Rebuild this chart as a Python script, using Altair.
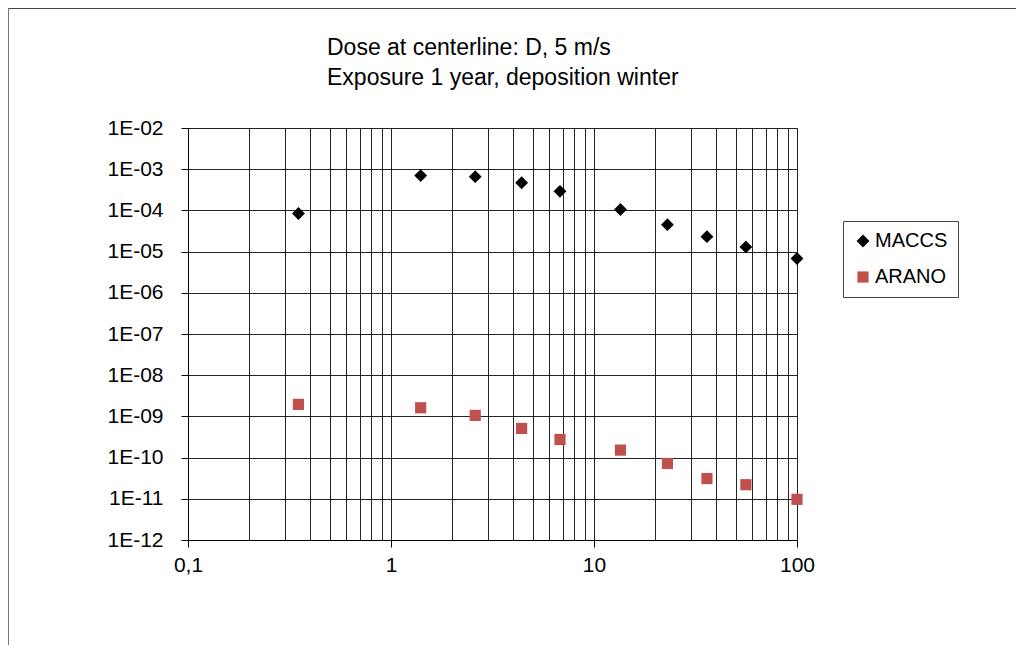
import altair as alt
import pandas as pd

# ---- data ----
distance = [0.35, 1.4, 2.6, 4.4, 6.8, 13.5, 23, 36, 56, 100]
maccs = [8.4e-5, 7.0e-4, 6.6e-4, 4.7e-4, 2.9e-4, 1.05e-4, 4.5e-5, 2.3e-5, 1.3e-5, 6.8e-6]
arano = [1.96e-9, 1.62e-9, 1.06e-9, 5.1e-10, 2.76e-10, 1.52e-10, 7.2e-11, 3.1e-11, 2.2e-11, 9.7e-12]
series = ["MACCS", "ARANO"]
colors = ["#000000", "#C0504D"]
shapes = ["diamond", "square"]
title_lines = ["Dose at centerline: D, 5 m/s", "Exposure 1 year, deposition winter"]
x_major = [0.1, 1, 10, 100]
x_grid = [0.1, 0.2, 0.3, 0.4, 0.5, 0.6, 0.7, 0.8, 0.9,
          1, 2, 3, 4, 5, 6, 7, 8, 9,
          10, 20, 30, 40, 50, 60, 70, 80, 90, 100]
y_ticks = [1e-12, 1e-11, 1e-10, 1e-9, 1e-8, 1e-7, 1e-6, 1e-5, 1e-4, 1e-3, 1e-2]

rows = []
for name, vals in zip(series, [maccs, arano]):
    for d, v in zip(distance, vals):
        rows.append({"series": name, "distance": d, "dose": v})
df = pd.DataFrame(rows)

FONT = "Liberation Sans"
major_js = "[" + ",".join(str(v) for v in x_major) + "]"
is_major = f"indexof({major_js}, datum.value) >= 0"

one = pd.DataFrame({"a": [0]})
frame_top = alt.Chart(one).mark_rule(color="#444444", strokeWidth=2).encode(
    x=alt.value(-180), x2=alt.value(828), y=alt.value(-120)
)
frame_left = alt.Chart(one).mark_rule(color="#777777", strokeWidth=2).encode(
    x=alt.value(-180), y=alt.value(-120), y2=alt.value(517)
)

points = alt.Chart(df).mark_point(filled=True, opacity=1).encode(
    x=alt.X("distance:Q",
            scale=alt.Scale(type="log", domain=[0.1, 100], nice=False),
            axis=alt.Axis(values=x_grid, title=None, grid=True,
                          gridColor="#000000", gridWidth=1, gridOpacity=0.85,
                          labelExpr=f"{is_major} ? replace(format(datum.value, '~g'), '.', ',') : ''",
                          labelOverlap=False, labelFlush=False,
                          tickOpacity={"condition": {"test": is_major, "value": 1}, "value": 0},
                          tickSize=7, tickColor="#000000", domainColor="#000000",
                          labelPadding=7, labelFontSize=21, labelFont=FONT,
                          labelColor="#000000")),
    y=alt.Y("dose:Q",
            scale=alt.Scale(type="log", domain=[1e-12, 1e-2], nice=False),
            axis=alt.Axis(values=y_ticks, title=None, grid=True,
                          gridColor="#000000", gridWidth=1, gridOpacity=0.85,
                          labelExpr="'1E-' + (round(-log(datum.value)/LN10) < 10 ? '0' : '') + round(-log(datum.value)/LN10)",
                          labelOverlap=False, labelFlush=False,
                          tickSize=7, tickColor="#000000", domainColor="#000000",
                          labelPadding=18, labelFontSize=21, labelFont=FONT,
                          labelColor="#000000")),
    color=alt.Color("series:N",
                    scale=alt.Scale(domain=series, range=colors),
                    legend=alt.Legend(title=None, orient="none", legendX=655, legendY=93,
                                      strokeColor="#444444", fillColor="#ffffff",
                                      padding=10, rowPadding=16, labelOffset=2,
                                      labelFontSize=20, labelFont=FONT, labelColor="#000000",
                                      symbolStrokeWidth=0)),
    shape=alt.Shape("series:N", scale=alt.Scale(domain=series, range=shapes)),
    size=alt.Size("series:N", scale=alt.Scale(domain=series, range=[165, 125])),
)

chart = alt.layer(frame_top, frame_left, points).properties(
    width=609, height=412,
    padding={"left": 180, "top": 120, "right": 219, "bottom": 105},
    autosize=alt.AutoSizeParams(type="none"),
    title=alt.TitleParams(text=title_lines, anchor="start", frame="group", dx=139,
                          dy=119, offset=36, lineHeight=30, fontSize=23, fontWeight="normal",
                          font=FONT, color="#000000"),
).configure_view(stroke="#000000").configure(background="#ffffff")

chart.save("out.html", embed_options={"renderer": "svg", "actions": False})
